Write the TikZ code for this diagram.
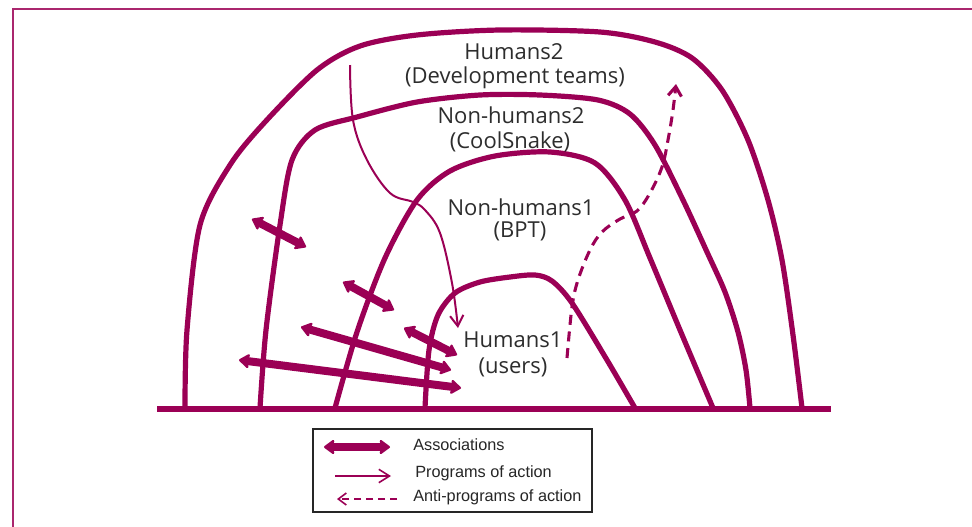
\documentclass[tikz,border=0pt]{standalone}
\usepackage{fontspec}
\setmainfont{Open Sans}
\newfontfamily\legendfont{Liberation Sans}
\usetikzlibrary{arrows.meta}
\definecolor{plum}{RGB}{155,0,85}
\definecolor{ink}{RGB}{45,45,45}
\tikzset{
  arch/.style={draw=plum, line width=3.9pt, line cap=round, line join=round},
  baseln/.style={draw=plum, line width=5.2pt},
  frameln/.style={draw=plum!85, line width=2.2pt},
  assoc/.style={draw=plum, line width=6pt,
    {Stealth[length=9pt,width=13pt,inset=2pt,round]}-{Stealth[length=9pt,width=13pt,inset=2pt,round]}},
  prog/.style={draw=plum, line width=1.5pt, -{Straight Barb[length=8pt,width=10pt]}},
  anti/.style={draw=plum, line width=2.3pt, dash pattern=on 7.5pt off 5pt, -{Straight Barb[length=7pt,width=10pt]}},
  lbl/.style={text=ink, font=\fontsize{16.5}{18}\selectfont, inner sep=0pt},
  leg/.style={text=black!85, font=\legendfont\fontsize{12.2}{14}\selectfont, inner sep=0pt, anchor=west},
}
\begin{document}
\begin{tikzpicture}[x=0.75pt,y=-0.75pt]
\useasboundingbox (0,0) rectangle (972,526);
\fill[white] (0,0) rectangle (972,526);
% frame
\draw[frameln] (13,527) -- (13,9) -- (973,9);

% arches
\draw[arch] plot[smooth,tension=0.5] coordinates {(185,408) (187,330) (200,225) (230,165) (265,122) (317,70) (360,46) (417,35) (500,30) (600,32) (655,42) (692,58) (722,90) (748,140) (768,200) (782,260) (793,335) (802,408)};
\draw[arch] plot[smooth,tension=0.5] coordinates {(260,408) (266,330) (280,225) (292,160) (315,130) (357,117) (417,102) (480,95) (540,95) (598,100) (630,114) (655,145) (683,200) (707,252) (725,292) (738,332) (746,370) (750,408)};
\draw[arch] plot[smooth,tension=0.5] coordinates {(335,408) (357,332) (385,258) (417,200) (450,171) (495,156) (550,152) (595,163) (625,200) (650,258) (680,330) (713,408)};
\draw[arch] plot[smooth,tension=0.5] coordinates {(425,408) (429,350) (438,315) (455,293) (480,282) (510,277) (535,275) (552,281) (572,303) (607,360) (635,408)};

% baseline
\coordinate (bl) at (157,409);
\coordinate (br) at (831,409);
\draw[baseln] (bl) -- (br);

% labels
\node[lbl] (h2) at (514,52) {Humans2};
\node[lbl] (h2b) at (515,78) {(Development teams)};
\node[lbl] (nh2) at (511,115) {Non-humans2};
\node[lbl] (nh2b) at (510,142) {(CoolSnake)};
\node[lbl] (nh1) at (521,207) {Non-humans1};
\node[lbl] (nh1b) at (520,231) {(BPT)};
\node[lbl] (h1) at (513,340) {Humans1};
\node[lbl] (h1b) at (513,367) {(users)};

% associations
\coordinate (a1s) at (252,219); \coordinate (a1e) at (306,247);
\coordinate (a2s) at (343,282); \coordinate (a2e) at (394,310);
\coordinate (a3s) at (404,328); \coordinate (a3e) at (457,355);
\coordinate (a4s) at (301,327); \coordinate (a4e) at (451,370);
\coordinate (a5s) at (239,360); \coordinate (a5e) at (461,388);
\draw[assoc] (a1s) -- (a1e);
\draw[assoc] (a2s) -- (a2e);
\draw[assoc] (a3s) -- (a3e);
\draw[assoc] (a4s) -- (a4e);
\draw[assoc] (a5s) -- (a5e);

% program of action
\draw[prog] plot[smooth,tension=0.6] coordinates {(350,65) (353,120) (367,160) (390,193) (413,202) (425,210) (440,233) (452,283) (458,328)};

% anti-program of action
\draw[anti] plot[smooth,tension=0.6] coordinates {(567,358) (572,307) (578,280) (590,250) (602,232) (620,219) (637,211) (650,193) (662,167) (668,140) (673,110) (676,84)};

% legend
\node[draw=black!85, line width=1.5pt, minimum width=209pt, minimum height=62pt, inner sep=0pt] (legend) at (452.5,470.5) {};
\coordinate (la1) at (324,447); \coordinate (la2) at (390,447);
\draw[assoc] (la1) -- (la2);
\coordinate (lp1) at (335,476); \coordinate (lp2) at (391,476);
\draw[prog, line width=1.2pt] (lp1) -- (lp2);
\coordinate (ln1) at (397,499); \coordinate (ln2) at (337,499);
\draw[anti, line width=1.2pt, dash pattern=on 5pt off 4pt, -{Straight Barb[length=6pt,width=9pt]}] (ln1) -- (ln2);
\node[leg] (t1) at (413,445) {Associations};
\node[leg] (t2) at (415,473) {Programs of action};
\node[leg] (t3) at (413,497) {Anti-programs of action};
\end{tikzpicture}
\end{document}
